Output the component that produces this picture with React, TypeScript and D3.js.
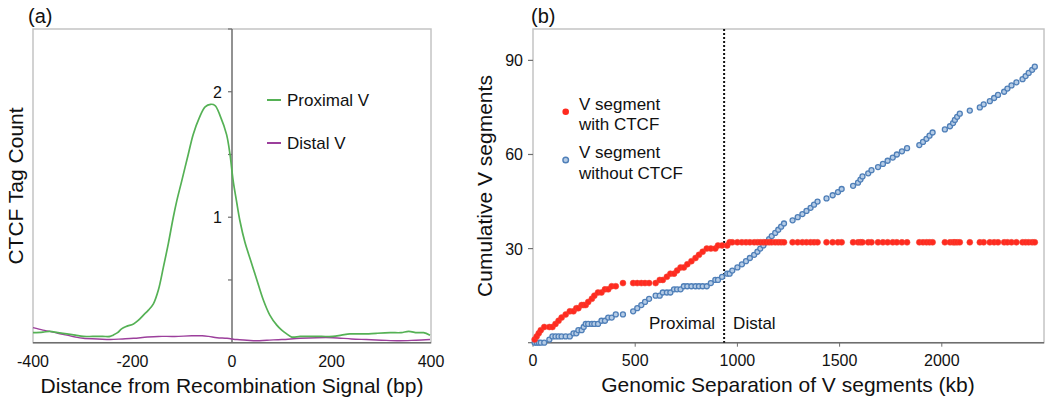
import React from "react";
import * as d3 from "d3";

// ---------- Panel (a) data ----------
const proxX = [-400, -380, -366, -350, -332, -315, -299, -280, -260, -245, -239, -230, -222, -212, -198, -188, -178, -168, -158, -148, -138, -128, -118, -111, -101, -88, -78, -66, -54, -43, -34, -24, -11, -4, 2, 9, 16, 26, 38, 50, 63, 76, 90, 100, 110, 120, 137, 160, 180, 203, 220, 237, 255, 270, 290, 318, 340, 355, 372, 385, 398];
const proxY = [0.08, 0.085, 0.09, 0.08, 0.07, 0.06, 0.05, 0.05, 0.05, 0.05, 0.06, 0.08, 0.11, 0.13, 0.15, 0.18, 0.22, 0.26, 0.31, 0.42, 0.60, 0.79, 1.0, 1.13, 1.29, 1.50, 1.66, 1.79, 1.88, 1.90, 1.89, 1.81, 1.66, 1.50, 1.30, 1.13, 0.97, 0.80, 0.65, 0.50, 0.34, 0.22, 0.14, 0.10, 0.07, 0.045, 0.05, 0.05, 0.05, 0.05, 0.06, 0.07, 0.07, 0.07, 0.075, 0.08, 0.08, 0.09, 0.08, 0.08, 0.06];
const distX = [-400, -380, -366, -350, -332, -315, -299, -270, -245, -220, -198, -170, -148, -115, -81, -60, -47, -30, -10, 10, 30, 50, 70, 100, 137, 170, 203, 240, 270, 300, 337, 370, 398];
const distY = [0.12, 0.10, 0.09, 0.075, 0.06, 0.045, 0.035, 0.03, 0.025, 0.03, 0.035, 0.045, 0.05, 0.05, 0.055, 0.055, 0.05, 0.04, 0.035, 0.025, 0.02, 0.015, 0.02, 0.025, 0.035, 0.04, 0.04, 0.03, 0.025, 0.02, 0.015, 0.02, 0.025];
const aXTicks = [-400, -200, 0, 200, 400];
const aYLabelTicks = [1, 2];
const aYMinorTicks = [0.5, 1, 1.5, 2, 2.5];

// ---------- Panel (b) data ----------
// V segment positions (kb) and whether each has CTCF (1) or not (0)
const segPosKb = [
  8, 18, 28, 38, 55, 80, 95, 110, 125, 140, 160, 180, 198, 212, 222, 238, 248, 258, 270, 288,
  300, 318, 335, 352, 368, 385, 405, 440, 490, 510, 530, 548, 568, 600, 620, 635, 655, 672, 690, 705,
  722, 738, 755, 775, 795, 812, 830, 850, 870, 892, 905, 925,
  950, 962, 975, 1000, 1022, 1042, 1061, 1082, 1098, 1112, 1127, 1140, 1155, 1168, 1185, 1200, 1214, 1228,
  1270, 1295, 1318, 1338, 1358, 1375, 1392, 1436, 1466, 1492, 1510, 1566, 1590, 1602, 1612, 1640, 1656, 1688,
  1712, 1735, 1760, 1780, 1805, 1830, 1890, 1908, 1925, 1940, 1955, 2015, 2040, 2055, 2064, 2075, 2088, 2137,
  2186, 2205, 2235, 2256, 2275, 2305, 2321, 2341, 2365, 2395, 2410, 2425, 2442, 2455,
];
const segHasCTCF = [
  1, 1, 1, 1, 1, 0, 0, 1, 1, 1, 1, 1, 0, 1, 0, 1, 0, 0, 1, 1,
  1, 1, 0, 1, 0, 1, 0, 1, 0, 0, 0, 0, 0, 0, 1, 0, 1, 1, 0, 1,
  1, 0, 1, 1, 1, 1, 1, 1, 0, 0, 1, 0,
  0, 1, 0, 0, 0, 0, 0, 0, 0, 0, 0, 0, 0, 0, 0, 0, 0, 0,
  0, 0, 0, 0, 0, 0, 0, 0, 0, 0, 0, 0, 0, 0, 0, 0, 0, 0,
  0, 0, 0, 0, 0, 0, 0, 0, 0, 0, 0, 0, 0, 0, 0, 0, 0, 0,
  0, 0, 0, 0, 0, 0, 0, 0, 0, 0, 0, 0, 0, 0,
];
const boundaryKb = 935;
const bXTicks = [0, 500, 1000, 1500, 2000];
const bYTicks = [30, 60, 90];

const FONT = "'Liberation Sans', Arial, Helvetica, sans-serif";
const GREEN = "#55b155";
const PURPLE = "#9c3f9c";
const RED = "#ff2a1f";
const BLUE_STROKE = "#4f7fb8";
const BLUE_FILL = "#b5cce6";
const BOX = "#c4c4c4";
const AXIS = "#6e6e6e";

export default function App() {
  // Panel (a) scales
  const xA = d3.scaleLinear().domain([-400, 400]).range([33, 431]);
  const yA = d3.scaleLinear().domain([0, 2.5]).range([342.7, 29]);
  const lineA = d3
    .line<[number, number]>()
    .x((d) => xA(d[0]))
    .y((d) => yA(d[1]))
    .curve(d3.curveCatmullRom.alpha(0.5));
  const proxPts = proxX.map((x, i) => [x, proxY[i]] as [number, number]);
  const distPts = distX.map((x, i) => [x, distY[i]] as [number, number]);

  // Panel (b) scales
  const xB = d3.scaleLinear().domain([0, 2500]).range([533, 1044]);
  const yB = d3.scaleLinear().domain([0, 100]).range([342.7, 29]);
  const redCum = d3.cumsum(segHasCTCF);
  const blueCum = d3.cumsum(segHasCTCF.map((v) => 1 - v));

  return (
    <svg
      width={1050}
      height={404}
      style={{ position: "absolute", left: 0, top: 0, background: "#fff" }}
      fontFamily={FONT}
    >
      <rect x={0} y={0} width={1050} height={404} fill="#fff" />
      {/* ===== Panel (a) ===== */}
      <text x={28} y={23} fontSize={20} fill="#111">(a)</text>
      <rect x={xA(-400)} y={yA(2.5)} width={xA(400) - xA(-400)} height={yA(0) - yA(2.5)} fill="none" stroke={BOX} strokeWidth={1.5} />
      <line x1={xA(0)} x2={xA(0)} y1={yA(2.5)} y2={yA(0)} stroke={AXIS} strokeWidth={1.5} />
      <line x1={xA(-400)} x2={xA(400)} y1={yA(0)} y2={yA(0)} stroke={AXIS} strokeWidth={1.5} />
      {aYMinorTicks.map((t) => (
        <line key={"am" + t} x1={xA(0) - 4} x2={xA(0)} y1={yA(t)} y2={yA(t)} stroke={AXIS} strokeWidth={1.2} />
      ))}
      {aYLabelTicks.map((t) => (
        <text key={"al" + t} x={xA(0) - 10} y={yA(t) + 6} fontSize={16} textAnchor="end" fill="#111">{t}</text>
      ))}
      {aXTicks.map((t) => (
        <text key={"ax" + t} x={xA(t)} y={367} fontSize={16} textAnchor="middle" fill="#111">{t}</text>
      ))}
      <path d={lineA(distPts) || ""} fill="none" stroke={PURPLE} strokeWidth={1.4} />
      <path d={lineA(proxPts) || ""} fill="none" stroke={GREEN} strokeWidth={1.7} />
      {/* legend a */}
      <line x1={267} x2={281} y1={100} y2={100} stroke={GREEN} strokeWidth={2} />
      <text x={287} y={106} fontSize={17} fill="#111">Proximal V</text>
      <line x1={267} x2={281} y1={143} y2={143} stroke={PURPLE} strokeWidth={2} />
      <text x={287} y={149} fontSize={17} fill="#111">Distal V</text>
      <text x={232} y={393} fontSize={21} textAnchor="middle" fill="#111">Distance from Recombination Signal (bp)</text>
      <text transform={`translate(23,186) rotate(-90)`} fontSize={21} textAnchor="middle" fill="#111">CTCF Tag Count</text>

      {/* ===== Panel (b) ===== */}
      <text x={531} y={23} fontSize={20} fill="#111">(b)</text>
      <rect x={xB(0)} y={yB(100)} width={xB(2500) - xB(0)} height={yB(0) - yB(100)} fill="none" stroke={BOX} strokeWidth={1.5} />
      <line x1={xB(0)} x2={xB(2500)} y1={yB(0)} y2={yB(0)} stroke={AXIS} strokeWidth={1.5} />
      {[0, ...bYTicks].map((t) => (
        <line key={"bm" + t} x1={xB(0) - 5} x2={xB(0)} y1={yB(t)} y2={yB(t)} stroke={AXIS} strokeWidth={1.2} />
      ))}
      {bYTicks.map((t) => (
        <text key={"bl" + t} x={523} y={yB(t) + 6} fontSize={16} textAnchor="end" fill="#111">{t}</text>
      ))}
      {bXTicks.map((t) => (
        <g key={"bx" + t}>
          <line x1={xB(t)} x2={xB(t)} y1={yB(0)} y2={yB(0) + 4} stroke={AXIS} strokeWidth={1} />
          <text x={xB(t)} y={366} fontSize={16} textAnchor="middle" fill="#111">{t}</text>
        </g>
      ))}
      <line x1={xB(boundaryKb)} x2={xB(boundaryKb)} y1={yB(100)} y2={yB(0)} stroke="#111" strokeWidth={2} strokeDasharray="2,2" />
      <text x={xB(boundaryKb) - 9} y={329} fontSize={17} textAnchor="end" fill="#111">Proximal</text>
      <text x={xB(boundaryKb) + 9} y={329} fontSize={17} fill="#111">Distal</text>
      {segPosKb.map((p, i) => (
        <circle key={"bb" + i} cx={xB(p)} cy={yB(blueCum[i])} r={2.5} fill={BLUE_FILL} stroke={BLUE_STROKE} strokeWidth={1.3} />
      ))}
      {segPosKb.map((p, i) => (
        <circle key={"rr" + i} cx={xB(p)} cy={yB(redCum[i])} r={3} fill={RED} stroke="#f24a3a" strokeWidth={0.5} />
      ))}
      {/* legend b */}
      <circle cx={565.7} cy={111.7} r={3.3} fill={RED} />
      <text x={579} y={110} fontSize={17} fill="#111">V segment</text>
      <text x={579} y={130} fontSize={17} fill="#111">with CTCF</text>
      <circle cx={565.7} cy={160} r={2.8} fill={BLUE_FILL} stroke={BLUE_STROKE} strokeWidth={1.4} />
      <text x={579} y={158} fontSize={17} fill="#111">V segment</text>
      <text x={579} y={179} fontSize={17} fill="#111">without CTCF</text>
      <text x={788} y={392} fontSize={21} textAnchor="middle" fill="#111">Genomic Separation of V segments (kb)</text>
      <text transform={`translate(492,186) rotate(-90)`} fontSize={21} textAnchor="middle" fill="#111">Cumulative V segments</text>
    </svg>
  );
}
